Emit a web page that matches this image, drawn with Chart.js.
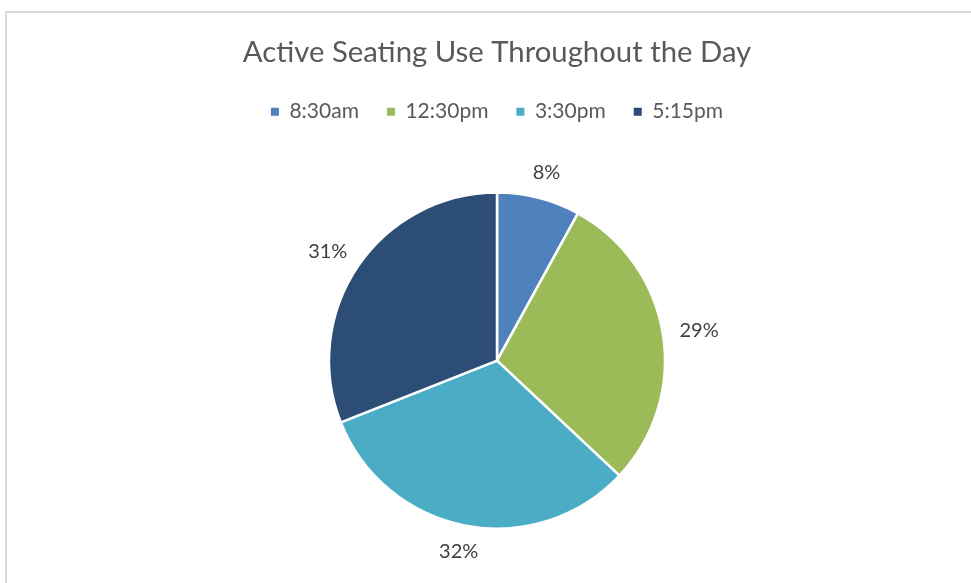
<!DOCTYPE html>
<html>
<head>
<meta charset="utf-8">
<script src="https://cdn.jsdelivr.net/npm/chart.js@4/dist/chart.umd.min.js"></script>
<style>
  html, body { margin: 0; padding: 0; background: #fff; overflow: hidden; }
  #frame {
    position: absolute; left: 5px; top: 11px; width: 1000px; height: 600px;
    border-top: 2px solid #d9d9d9; border-left: 2px solid #d9d9d9;
  }
  #wrap { position: absolute; left: 0; top: 0; width: 971px; height: 600px; }
</style>
</head>
<body>
<div id="frame"></div>
<div id="wrap"><canvas id="pieChart"></canvas></div>
<script>
// chart data
const titleText = 'Active Seating Use Throughout the Day';
const timeLabels = ['8:30am', '12:30pm', '3:30pm', '5:15pm'];
const shareValues = [8, 29, 32, 31];
const sliceColors = ['#4f81bd', '#9bbb59', '#4bacc6', '#2c4d75'];

const fontFamily = 'Lato, "Open Sans", sans-serif';

// draws the percentage labels just outside each slice
const outsideLabels = {
    id: 'outsideLabels',
    afterDatasetsDraw(chart) {
        const ctx = chart.ctx;
        const meta = chart.getDatasetMeta(0);
        const data = chart.data.datasets[0].data;
        ctx.save();
        ctx.font = '20px ' + fontFamily;
        ctx.fillStyle = '#404040';
        ctx.textAlign = 'center';
        ctx.textBaseline = 'middle';
        meta.data.forEach((arc, i) => {
            const mid = (arc.startAngle + arc.endAngle) / 2;
            const text = data[i] + '%';
            const hw = ctx.measureText(text).width / 2;
            const hh = 9;
            const gap = 17;
            const cos = Math.cos(mid), sin = Math.sin(mid);
            const x = arc.x + (arc.outerRadius + gap + hw) * cos;
            const y = arc.y + (arc.outerRadius + gap + hh) * sin;
            ctx.fillText(text, x, y);
        });
        ctx.restore();
    }
};

new Chart(document.getElementById('pieChart'), {
    type: 'pie',
    data: {
        labels: timeLabels,
        datasets: [{
            data: shareValues,
            backgroundColor: sliceColors,
            borderColor: '#ffffff',
            borderWidth: 2.5,
            radius: 168
        }]
    },
    options: {
        responsive: true,
        maintainAspectRatio: false,
        animation: false,
        layout: {
            padding: { left: 23, right: 0, top: 20, bottom: 11 }
        },
        plugins: {
            title: {
                display: true,
                text: titleText,
                color: '#595959',
                font: { family: fontFamily, size: 29.3, weight: 'normal' },
                padding: { top: 15, bottom: 3 }
            },
            legend: {
                position: 'top',
                labels: {
                    color: '#595959',
                    font: { family: fontFamily, size: 21 },
                    boxWidth: 8,
                    boxHeight: 8,
                    padding: 28,
                    generateLabels(chart) {
                        const items = Chart.overrides.pie.plugins.legend.labels.generateLabels(chart);
                        items.forEach(it => { it.lineWidth = 0; });
                        return items;
                    }
                }
            },
            tooltip: { enabled: false }
        }
    },
    plugins: [outsideLabels]
});
</script>
</body>
</html>
